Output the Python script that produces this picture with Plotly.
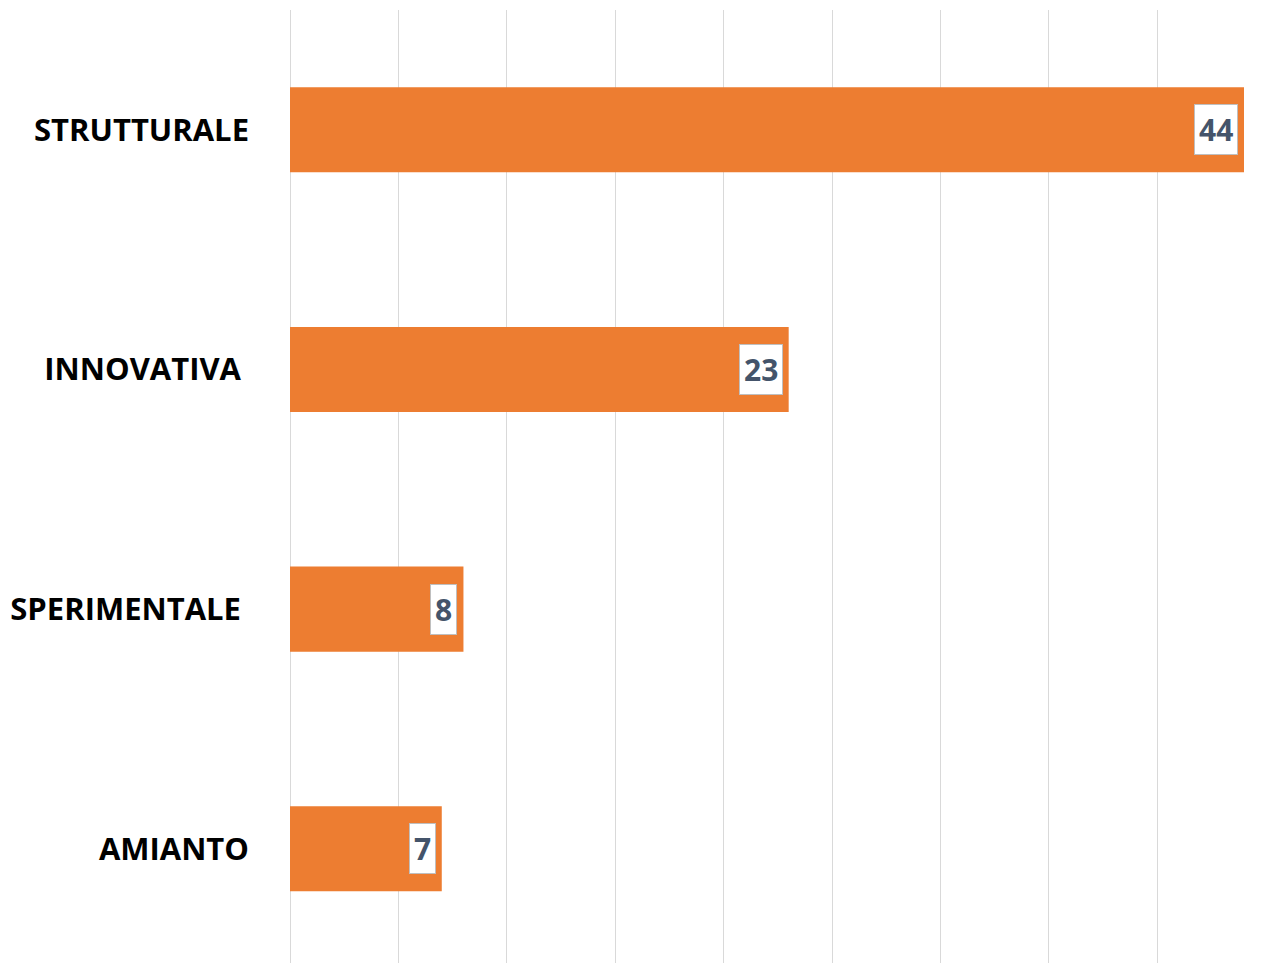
import plotly.graph_objects as go

categories = ['STRUTTURALE', 'INNOVATIVA', 'SPERIMENTALE', 'AMIANTO']
tick_labels = ['STRUTTURALE', 'INNOVATIVA\u00a0', 'SPERIMENTALE\u00a0', 'AMIANTO']
values = [44, 23, 8, 7]

bar_color = '#ED7D31'
label_color = '#44546A'

fig = go.Figure()
fig.add_trace(go.Bar(x=values, y=categories, orientation='h',
                     marker_color=bar_color, marker_line_width=0,
                     showlegend=False, hoverinfo='skip'))

# data labels in white boxes at the inner end of each bar
for cat, val in zip(categories, values):
    fig.add_annotation(x=val, y=cat, text='<b>%d</b>' % val, showarrow=False,
                       xanchor='right', xshift=-6,
                       font=dict(family='Open Sans', size=30, color=label_color),
                       bgcolor='white', bordercolor='#BFBFBF', borderwidth=1,
                       borderpad=4)

fig.update_layout(
    width=1264, height=963,
    margin=dict(l=282, r=28, t=2, b=0),
    plot_bgcolor='white', paper_bgcolor='white',
    bargap=0.645,
    font=dict(family='Open Sans', color='black'),
    xaxis=dict(range=[0, 44], dtick=5, showticklabels=False,
               showgrid=True, gridcolor='#D9D9D9', gridwidth=1,
               zeroline=True, zerolinecolor='#D9D9D9', zerolinewidth=1,
               showline=False),
    yaxis=dict(categoryorder='array', categoryarray=categories,
               tickmode='array', tickvals=categories, ticktext=tick_labels,
               range=[3.51, -0.5], showgrid=False, showline=False,
               tickfont=dict(family='Open Sans', size=31, color='black', weight='bold'),
               ticklabelstandoff=40),
)

fig.write_html('out.html')
